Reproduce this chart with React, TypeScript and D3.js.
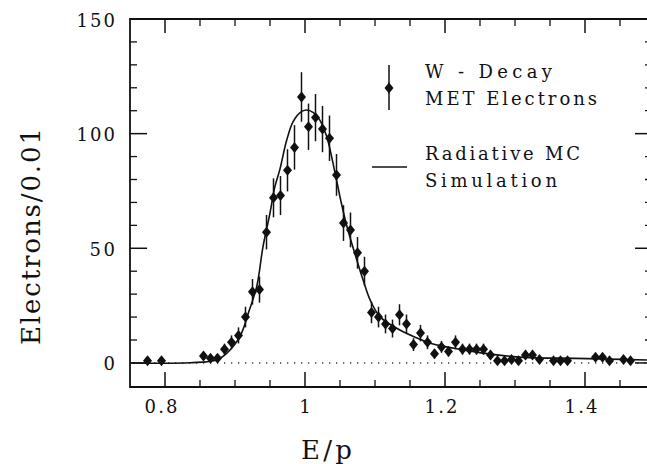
import React from "react";
import * as d3 from "d3";

// ---- data ----
const epBins = [0.775,0.795,0.855,0.865,0.875,0.885,0.895,0.905,0.915,0.925,0.935,0.945,0.955,0.965,0.975,0.985,0.995,1.005,1.015,1.025,1.035,1.045,1.055,1.065,1.075,1.085,1.095,1.105,1.115,1.125,1.135,1.145,1.155,1.165,1.175,1.185,1.195,1.205,1.215,1.225,1.235,1.245,1.255,1.265,1.275,1.285,1.295,1.305,1.315,1.325,1.335,1.355,1.365,1.375,1.415,1.425,1.435,1.455,1.465];
const counts = [1,1,3,2,2,6,9,12,20,31,32,57,72,73,84,94,116,103,107,102,98,82,61,58,48,40,22,20,17,15,21,17,8,13,9,4,7,5,9,6,6,6,6,3.5,1,1,1.5,1,3.5,3.5,1.5,1,1,1,2.5,2.5,1,1.5,1];
const errors = [1,1,1.7,1.4,1.4,2.4,3,3.5,4.5,5.6,5.7,7.5,8.5,8.5,9.2,9.7,10.8,10.1,10.3,10.1,9.9,9.1,7.8,7.6,6.9,6.3,4.7,4.5,4.1,3.9,4.6,4.1,2.8,3.6,3,2,2.6,2.2,3,2.4,2.4,2.4,2.4,1.9,1,1,1.2,1,1.9,1.9,1.2,1,1,1,1.6,1.6,1,1.2,1];

const mcX = [0.75,0.836,0.874,0.888,0.907,0.919,0.931,0.94,0.95,0.957,0.964,0.974,0.983,0.993,1.002,1.012,1.021,1.031,1.038,1.045,1.052,1.06,1.074,1.083,1.093,1.107,1.131,1.155,1.179,1.226,1.274,1.321,1.386,1.5];
const mcY = [0,0.1,1.3,4.2,11.5,21.7,33.3,50.7,65.4,76.9,84.3,97.3,105.2,109.2,110.3,109.2,106,98.7,90,79.8,69.6,59.4,44.9,36.2,27.5,20.2,15.1,11.5,8.6,5.7,3.5,2.3,2.0,1.2];

const xMajor = [0.8, 1.0, 1.2, 1.4];
const xMajorLabels = ["0.8", "1", "1.2", "1.4"];
const xMinor = [0.85, 0.9, 0.95, 1.05, 1.1, 1.15, 1.25, 1.3, 1.35, 1.45];
const yMajor = [0, 50, 100, 150];
const yMajorLabels = ["0", "50", "100", "150"];
const yMinor = [10, 20, 30, 40, 60, 70, 80, 90, 110, 120, 130, 140];

const W = 647, H = 464;
const left = 130, right = 652, top = 19, bottom = 387;

export default function App() {
  const x = d3.scaleLinear().domain([0.75, 1.5]).range([left, 655]);
  const y = d3.scaleLinear().domain([-10.5, 150]).range([bottom, top]);
  const font = "'DejaVu Serif', serif";

  const line = d3
    .line<number>()
    .x((_, i) => x(mcX[i]))
    .y((d) => y(d))
    .curve(d3.curveCatmullRom.alpha(0.5));

  const diamond = (cx: number, cy: number) =>
    `M${cx},${cy - 5.5}L${cx + 4.5},${cy}L${cx},${cy + 5.5}L${cx - 4.5},${cy}Z`;

  const dots = d3.range(left + 3, right, 7);

  return (
    <svg width={W} height={H} style={{ position: "absolute", left: 0, top: 0, background: "#fff" }}>
      <defs>
        <clipPath id="plot">
          <rect x={left} y={top} width={right - left} height={bottom - top} />
        </clipPath>
      </defs>
      <rect x={0} y={0} width={W} height={H} fill="#fff" />

      {/* zero dotted line */}
      {dots.map((d, i) => (
        <rect key={"dot" + i} x={d} y={y(0) - 0.6} width={1.3} height={1.3} fill="#222" />
      ))}

      {/* frame */}
      <path d={`M${right},${top}H${left}V${bottom}H${right}V${top}`} fill="none" stroke="#111" strokeWidth={1.8} />

      {/* x ticks bottom & top */}
      {xMajor.map((v, i) => (
        <g key={"xM" + i}>
          <line x1={x(v)} x2={x(v)} y1={bottom} y2={bottom - 15} stroke="#111" strokeWidth={1.5} />
          <line x1={x(v)} x2={x(v)} y1={top} y2={top + 14} stroke="#111" strokeWidth={1.5} />
          <text
            x={x(v) - (xMajorLabels[i].length > 1 ? 4 : 0)}
            y={413}
            fontFamily={font}
            fontSize={18}
            textAnchor="middle"
            textLength={xMajorLabels[i].length > 1 ? 33 : undefined}
            lengthAdjust="spacing"
            fill="#111"
          >
            {xMajorLabels[i]}
          </text>
        </g>
      ))}
      {xMinor.map((v, i) => (
        <g key={"xm" + i}>
          <line x1={x(v)} x2={x(v)} y1={bottom} y2={bottom - 7} stroke="#111" strokeWidth={1.3} />
          <line x1={x(v)} x2={x(v)} y1={top} y2={top + 7} stroke="#111" strokeWidth={1.3} />
        </g>
      ))}

      {/* y ticks left & right */}
      {yMajor.map((v, i) => (
        <g key={"yM" + i}>
          <line x1={left} x2={left + 17} y1={y(v)} y2={y(v)} stroke="#111" strokeWidth={1.5} />
          <line x1={right} x2={right - 17} y1={y(v)} y2={y(v)} stroke="#111" strokeWidth={1.5} />
          <text
            x={115}
            y={y(v) + 7.5}
            fontFamily={font}
            fontSize={18}
            textAnchor="end"
            textLength={yMajorLabels[i].length * 12.8}
            lengthAdjust="spacing"
            fill="#111"
          >
            {yMajorLabels[i]}
          </text>
        </g>
      ))}
      {yMinor.map((v, i) => (
        <g key={"ym" + i}>
          <line x1={left} x2={left + 7} y1={y(v)} y2={y(v)} stroke="#111" strokeWidth={1.3} />
          <line x1={right} x2={right - 7} y1={y(v)} y2={y(v)} stroke="#111" strokeWidth={1.3} />
        </g>
      ))}

      <g clipPath="url(#plot)">
        {/* MC curve */}
        <path d={line(mcY) || ""} fill="none" stroke="#111" strokeWidth={1.6} />

        {/* data */}
        {epBins.map((b, i) => (
          <g key={"p" + i}>
            <line
              x1={x(b)}
              x2={x(b)}
              y1={y(counts[i] - errors[i])}
              y2={y(counts[i] + errors[i])}
              stroke="#111"
              strokeWidth={1.5}
            />
            <path d={diamond(x(b), y(counts[i]))} fill="#111" />
          </g>
        ))}
      </g>

      {/* legend */}
      <line x1={389} x2={389} y1={65} y2={110} stroke="#111" strokeWidth={1.5} />
      <path d={diamond(389, 88)} fill="#111" />
      <text x={425} y={78} fontFamily={font} fontSize={18} textLength={127} lengthAdjust="spacing" fill="#111">
        W - Decay
      </text>
      <text x={425} y={105} fontFamily={font} fontSize={18} textLength={172} lengthAdjust="spacing" fill="#111">
        MET Electrons
      </text>
      <line x1={372} x2={407} y1={167} y2={167} stroke="#111" strokeWidth={1.6} />
      <text x={425} y={160} fontFamily={font} fontSize={18} textLength={155} lengthAdjust="spacing" fill="#111">
        Radiative MC
      </text>
      <text x={425} y={187} fontFamily={font} fontSize={18} textLength={132} lengthAdjust="spacing" fill="#111">
        Simulation
      </text>

      {/* axis titles */}
      <text
        transform={`translate(40,236.5) rotate(-90)`}
        fontFamily={font}
        fontSize={26}
        textAnchor="middle"
        textLength={217}
        lengthAdjust="spacing"
        fill="#111"
      >
        Electrons/0.01
      </text>
      <text x={301} y={459} fontFamily={font} fontSize={26} textLength={51} lengthAdjust="spacing" fill="#111">
        E/p
      </text>
    </svg>
  );
}
